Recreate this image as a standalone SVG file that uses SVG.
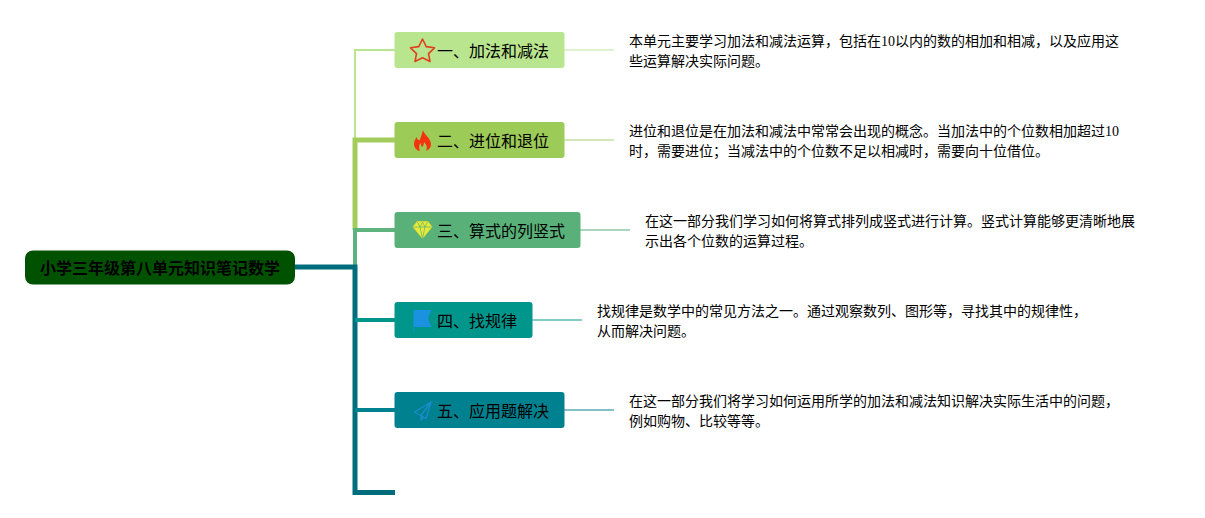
<svg xmlns="http://www.w3.org/2000/svg" width="1205" height="518" viewBox="0 0 1205 518">
<style>
.t{font-family:"Liberation Serif","Noto Sans CJK SC",serif;font-size:14px;fill:#000}
.n{font-family:"Noto Sans CJK SC","Liberation Sans",sans-serif;font-size:16px;fill:#000}
.r{font-family:"Noto Sans CJK SC","Liberation Sans",sans-serif;font-size:16px;font-weight:700;fill:#000}
.c{fill:none}
</style>
<rect width="1205" height="518" fill="#fff"/>
<g id="connectors" class="c">
<path d="M395 50H355V140" stroke="#b9e58f" stroke-width="2"/>
<path d="M395 140H355V230" stroke="#a2cd5c" stroke-width="5"/>
<path d="M395 230H355V267" stroke="#5eb27c" stroke-width="4"/>
<path d="M295 267H355V492.500H395" stroke="#006d7c" stroke-width="5"/>
<path d="M355 320H395" stroke="#00968c" stroke-width="4"/>
<path d="M355 410H395" stroke="#00818f" stroke-width="4"/>
<path d="M564 50H614" stroke="#dff2cf" stroke-width="2"/>
<path d="M564 140H614" stroke="#d3e7b8" stroke-width="2"/>
<path d="M580 230H630" stroke="#a8d6bc" stroke-width="2"/>
<path d="M532 320H582" stroke="#85cbc6" stroke-width="2"/>
<path d="M564 410H614" stroke="#85bfc9" stroke-width="2"/>
</g>
<g id="root">
<rect x="25" y="250.500" width="270" height="34" rx="8" fill="#005200"/>
<text class="r" x="160" y="273.500" text-anchor="middle">小学三年级第八单元知识笔记数学</text>
</g>
<g id="node1">
<rect x="394.500" y="32" width="170" height="36" rx="3" fill="#b9e58f"/>
<path d="M422.500 39L426.200 46.600L434.500 47.800L428.500 53.600L430 61.500L422.500 57.700L415 61.500L416.500 53.600L410.500 47.800L418.800 46.600Z" fill="none" stroke="#e0401f" stroke-width="1.600" stroke-linejoin="round"/>
<text class="n" x="437" y="56.500">一、加法和减法</text>
</g>
<g id="text1">
<text class="t" x="629" y="46">本单元主要学习加法和减法运算，包括在10以内的数的相加和相减，以及应用这</text>
<text class="t" x="629" y="66">些运算解决实际问题。</text>
</g>
<g id="node2">
<rect x="394.500" y="122" width="170" height="36" rx="3" fill="#9ccb58"/>
<path d="M423 130C424 135 431 138 431 144.500C431 148 428 150 426 151C427.500 148 427 145 424 142C424 145 422.500 147 422 147C420.500 145.500 421 143.500 420.500 142.500C419 145 418.500 148 420 151C416.500 150.500 414 147.500 414 144C414 141 415.500 139 416.500 137C417 139 418 140 419.500 140.500C421 137 422 134 423 130Z" fill="#f5330f"/>
<text class="n" x="437" y="146.500">二、进位和退位</text>
</g>
<g id="text2">
<text class="t" x="629" y="136">进位和退位是在加法和减法中常常会出现的概念。当加法中的个位数相加超过10</text>
<text class="t" x="629" y="156">时，需要进位；当减法中的个位数不足以相减时，需要向十位借位。</text>
</g>
<g id="node3">
<rect x="394.500" y="212" width="186" height="36" rx="3" fill="#5ab079"/>
<path d="M417 221.500H428L432 227L422.500 238.500L413 227Z" fill="#e8ea3a" stroke="#d8dc30" stroke-width=".8"/>
<path d="M413.500 227H431.500M417.500 222L420 227L422.500 238.500L425 227L427.500 222M420 227L422.500 222L425 227" fill="none" stroke="#5ab079" stroke-width=".7"/>
<text class="n" x="437" y="236.500">三、算式的列竖式</text>
</g>
<g id="text3">
<text class="t" x="645" y="226">在这一部分我们学习如何将算式排列成竖式进行计算。竖式计算能够更清晰地展</text>
<text class="t" x="645" y="246">示出各个位数的运算过程。</text>
</g>
<g id="node4">
<rect x="394.500" y="302" width="138" height="36" rx="3" fill="#00968c"/>
<path d="M413.500 310H431.500L428 318.500L431.500 327H413.500Z" fill="#1a92e0"/>
<path d="M413.800 327V332" stroke="#1a92e0" stroke-width=".6" fill="none"/>
<text class="n" x="437" y="326.500">四、找规律</text>
</g>
<g id="text4">
<text class="t" x="597" y="316">找规律是数学中的常见方法之一。通过观察数列、图形等，寻找其中的规律性，</text>
<text class="t" x="597" y="336">从而解决问题。</text>
</g>
<g id="node5">
<rect x="394.500" y="392" width="170" height="36" rx="3" fill="#00818f"/>
<path d="M431 402L414.500 412L421 415.500L426 418.500L431 402L421 415.500V420L424 417" fill="none" stroke="#1a8ccf" stroke-width="1.300" stroke-linejoin="round"/>
<text class="n" x="437" y="416.500">五、应用题解决</text>
</g>
<g id="text5">
<text class="t" x="629" y="406">在这一部分我们将学习如何运用所学的加法和减法知识解决实际生活中的问题，</text>
<text class="t" x="629" y="426">例如购物、比较等等。</text>
</g>
</svg>
